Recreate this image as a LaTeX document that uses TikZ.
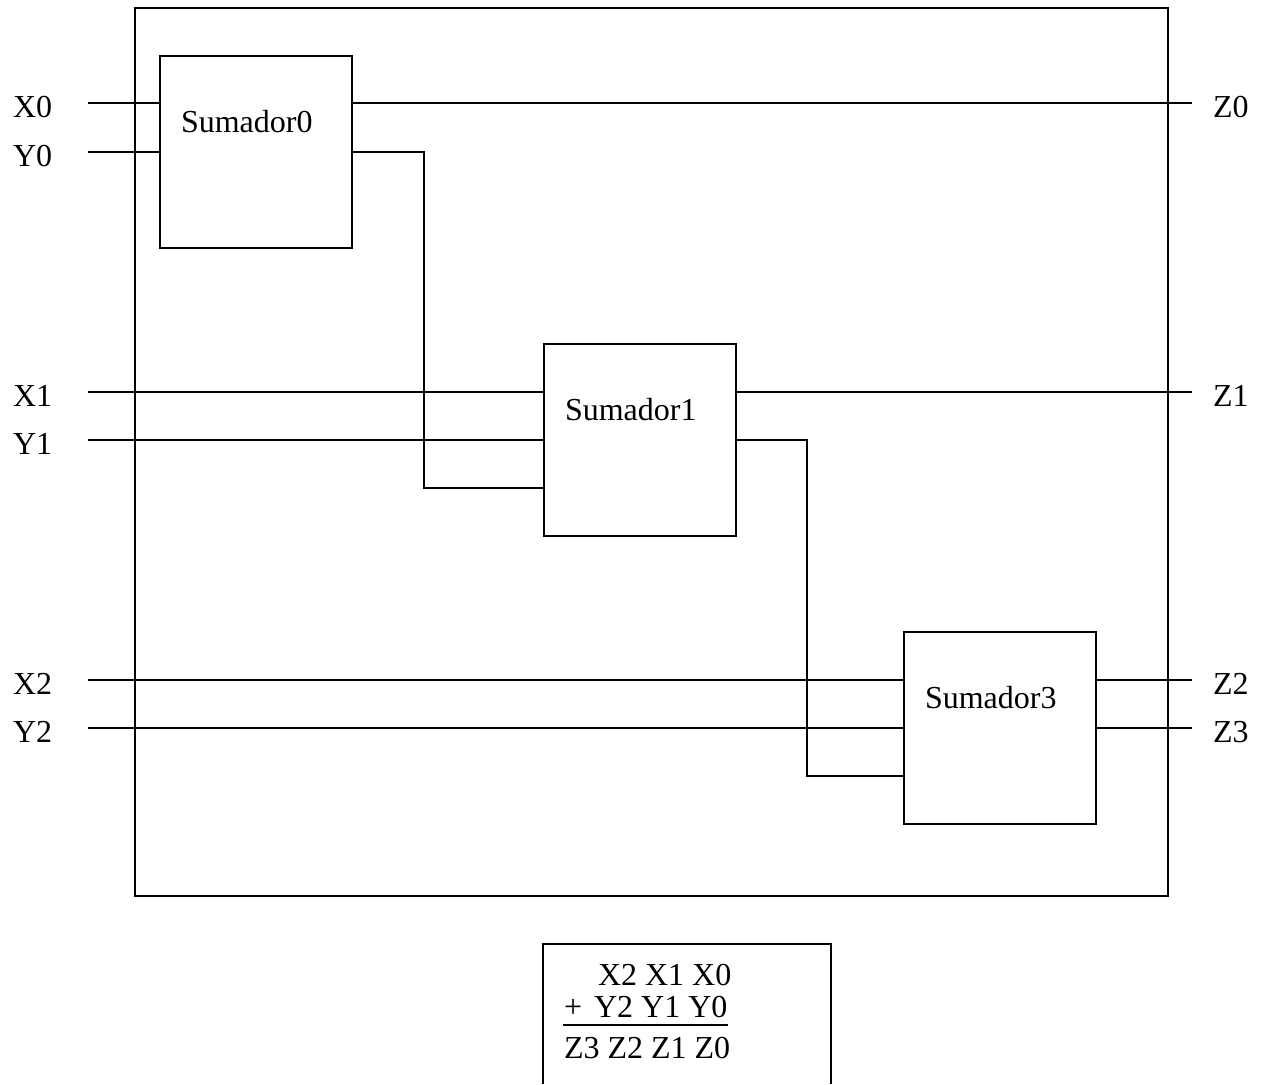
\documentclass[tikz,border=0pt]{standalone}
\usepackage{fontspec}
\setmainfont{Liberation Serif}
\tikzset{
  adder/.style={draw, minimum width=192pt, minimum height=192pt, inner sep=0pt},
  lbl/.style={anchor=base west, inner sep=0pt, font=\fontsize{32}{38}\selectfont}
}
\begin{document}
\begin{tikzpicture}[x=1pt,y=-1pt,line width=2pt]
\useasboundingbox (0,0) rectangle (1263,1084);
% outer box
\draw (135,8) rectangle (1168,896);
% adders
\node[adder] (s0) at (256,152) {};
\node[adder] (s1) at (640,440) {};
\node[adder] (s3) at (1000,728) {};
\node[lbl] (s0t) at ([shift={(21,77)}]s0.north west) {Sumador0};
\node[lbl] (s1t) at ([shift={(21,77)}]s1.north west) {Sumador1};
\node[lbl] (s3t) at ([shift={(21,77)}]s3.north west) {Sumador3};
% pins
\node[lbl] (x0) at (12,117) {X0};
\node[lbl] (y0) at (12,166) {Y0};
\node[lbl] (x1) at (12,406) {X1};
\node[lbl] (y1) at (12,454) {Y1};
\node[lbl] (x2) at (12,694) {X2};
\node[lbl] (y2) at (12,742) {Y2};
\node[lbl] (z0) at (1212,117) {Z0};
\node[lbl] (z1) at (1212,406) {Z1};
\node[lbl] (z2) at (1212,694) {Z2};
\node[lbl] (z3) at (1212,742) {Z3};
\coordinate (x0w) at (88,103);
\coordinate (y0w) at (88,152);
\coordinate (x1w) at (88,392);
\coordinate (y1w) at (88,440);
\coordinate (x2w) at (88,680);
\coordinate (y2w) at (88,728);
\coordinate (z0w) at (1192,103);
\coordinate (z1w) at (1192,392);
\coordinate (z2w) at (1192,680);
\coordinate (z3w) at (1192,728);
\coordinate (c0) at (424,488);
\coordinate (c1) at (807,776);
% wires
\draw (x0w) -- (x0w -| s0.west);
\draw (y0w) -- (y0w -| s0.west);
\draw (x1w) -- (x1w -| s1.west);
\draw (y1w) -- (y1w -| s1.west);
\draw (x2w) -- (x2w -| s3.west);
\draw (y2w) -- (y2w -| s3.west);
\draw (z0w -| s0.east) -- (z0w);
\draw (z1w -| s1.east) -- (z1w);
\draw (z2w -| s3.east) -- (z2w);
\draw (z3w -| s3.east) -- (z3w);
% carries
\draw (y0w -| s0.east) -| (c0) -- (c0 -| s1.west);
\draw (y1w -| s1.east) -| (c1) -- (c1 -| s3.west);
% sum box
\draw (543,1084) |- (831,944) -- (831,1084);
\node[lbl] (opx) at (597,985) {X2 X1 X0};
\node[lbl] (opy) at (563,1017) {+\hspace{12pt}Y2 Y1 Y0};
\node[lbl] (res) at (563,1058) {Z3 Z2 Z1 Z0};
\draw[line width=2.5pt] ([yshift=-8pt]opy.base west) -- ([yshift=-8pt]opy.base east);
\end{tikzpicture}
\end{document}
